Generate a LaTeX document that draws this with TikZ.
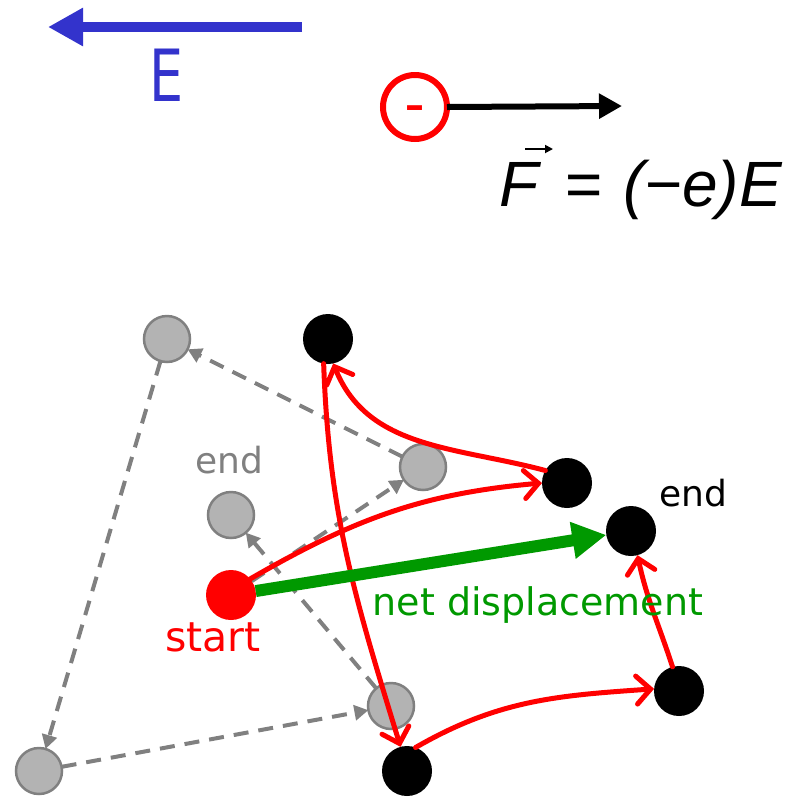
\documentclass[tikz,border=0pt]{standalone}
\usepackage{fontspec}
\setmainfont{DejaVu Sans}
\newfontfamily\formfont{Liberation Sans}
\usetikzlibrary{arrows.meta}
\definecolor{eblue}{RGB}{51,51,204}
\definecolor{ngreen}{RGB}{0,153,0}
\definecolor{dgray}{RGB}{128,128,128}
\definecolor{lgray}{RGB}{179,179,179}
\tikzset{
  blackdot/.style={circle,fill=black,minimum size=50pt,inner sep=0pt,outer sep=0pt},
  startdot/.style={circle,fill=red,minimum size=50pt,inner sep=0pt,outer sep=0pt},
  graydot/.style={circle,fill=lgray,draw=dgray,line width=2.5pt,minimum size=46pt,inner sep=0pt,outer sep=0pt},
  grayline/.style={draw=dgray,line width=4pt,dash pattern=on 15pt off 10pt,-{Triangle[length=14pt,width=15pt]}},
  redline/.style={draw=red,line width=5pt,line cap=round,-{Straight Barb[length=14pt,width=28pt,line cap=round]}},
  lbl/.style={font=\fontsize{36}{40}\selectfont,inner sep=0pt}
}
\begin{document}
\begin{tikzpicture}[x=1pt,y=-1pt]
\useasboundingbox (0,0) rectangle (804,796);
% field arrow
\coordinate (Ea) at (302,27);
\coordinate (Eb) at (48,27);
\draw[eblue,line width=10pt,-{Triangle[length=35pt,width=36pt]}] (Ea) -- (Eb);
\node[text=eblue,font=\fontsize{72}{72}\selectfont,inner sep=0pt] (Elbl) at (167,75) {\scalebox{0.75}[1]{E}};
% charge
\node[circle,draw=red,line width=6pt,minimum size=64pt,inner sep=0pt,outer sep=0pt] (q) at (415,107) {};
\node[text=red,font=\fontsize{38}{38}\selectfont\bfseries,inner sep=0pt] (qm) at (415,112) {–};
\coordinate (Ft) at (622,106);
\draw[line width=6pt,-{Triangle[length=23pt,width=24pt]}] (q.east) -- (Ft);
\node[font=\formfont\itshape\fontsize{64}{64}\selectfont,inner sep=0pt,anchor=base west] (form) at (499,206) {F\kern 26pt=\kern 22pt(−e)E};
\coordinate (vA) at (525,149);
\coordinate (vB) at (553,149);
\draw[line width=1.8pt,-{Triangle[length=8pt,width=8pt]}] (vA) -- (vB);
% gray dots
\node[graydot] (G1) at (167,339) {};
\node[graydot] (G2) at (423,467) {};
\node[graydot] (G3) at (231,515) {};
\node[graydot] (G4) at (391,706) {};
\node[graydot] (G5) at (39,771) {};
% start dot
\node[startdot] (S) at (231,595) {};
% gray dashed path
\draw[grayline] (S) -- (G2);
\draw[grayline] (G2) -- (G1);
\draw[grayline] (G1) -- (G5);
\draw[grayline] (G5) -- (G4);
\draw[grayline] (G4) -- (G3);
% black dots
\node[blackdot] (B1) at (328,339) {};
\node[blackdot] (B2) at (567,483) {};
\node[blackdot] (B3) at (631,531) {};
\node[blackdot] (B4) at (679,691) {};
\node[blackdot] (B5) at (407,771) {};
% red path
\draw[redline] (S.40) to[out=30,in=185] (B2.west);
\draw[redline] (B2.150) to[out=165,in=-68] (B1.-78);
\draw[redline] (B1.-100) to[out=-88,in=107] (B5.105);
\draw[redline] (B5.70) to[out=30,in=184] (B4.175);
\draw[redline] (B4.105) to[out=108,in=-78] (B3.-75);
% net displacement
\draw[ngreen,line width=12pt,-{Triangle[length=34pt,width=35pt]}] (S) -- (B3);
% labels
\node[lbl,text=dgray] (endg) at (229,460) {end};
\node[lbl,text=black] (endb) at (693,493) {end};
\node[lbl,text=red,font=\fontsize{41}{44}\selectfont] (startl) at (213,637) {start};
\node[lbl,text=ngreen,font=\fontsize{38}{42}\selectfont] (netl) at (538,605) {net displacement};
\end{tikzpicture}
\end{document}
